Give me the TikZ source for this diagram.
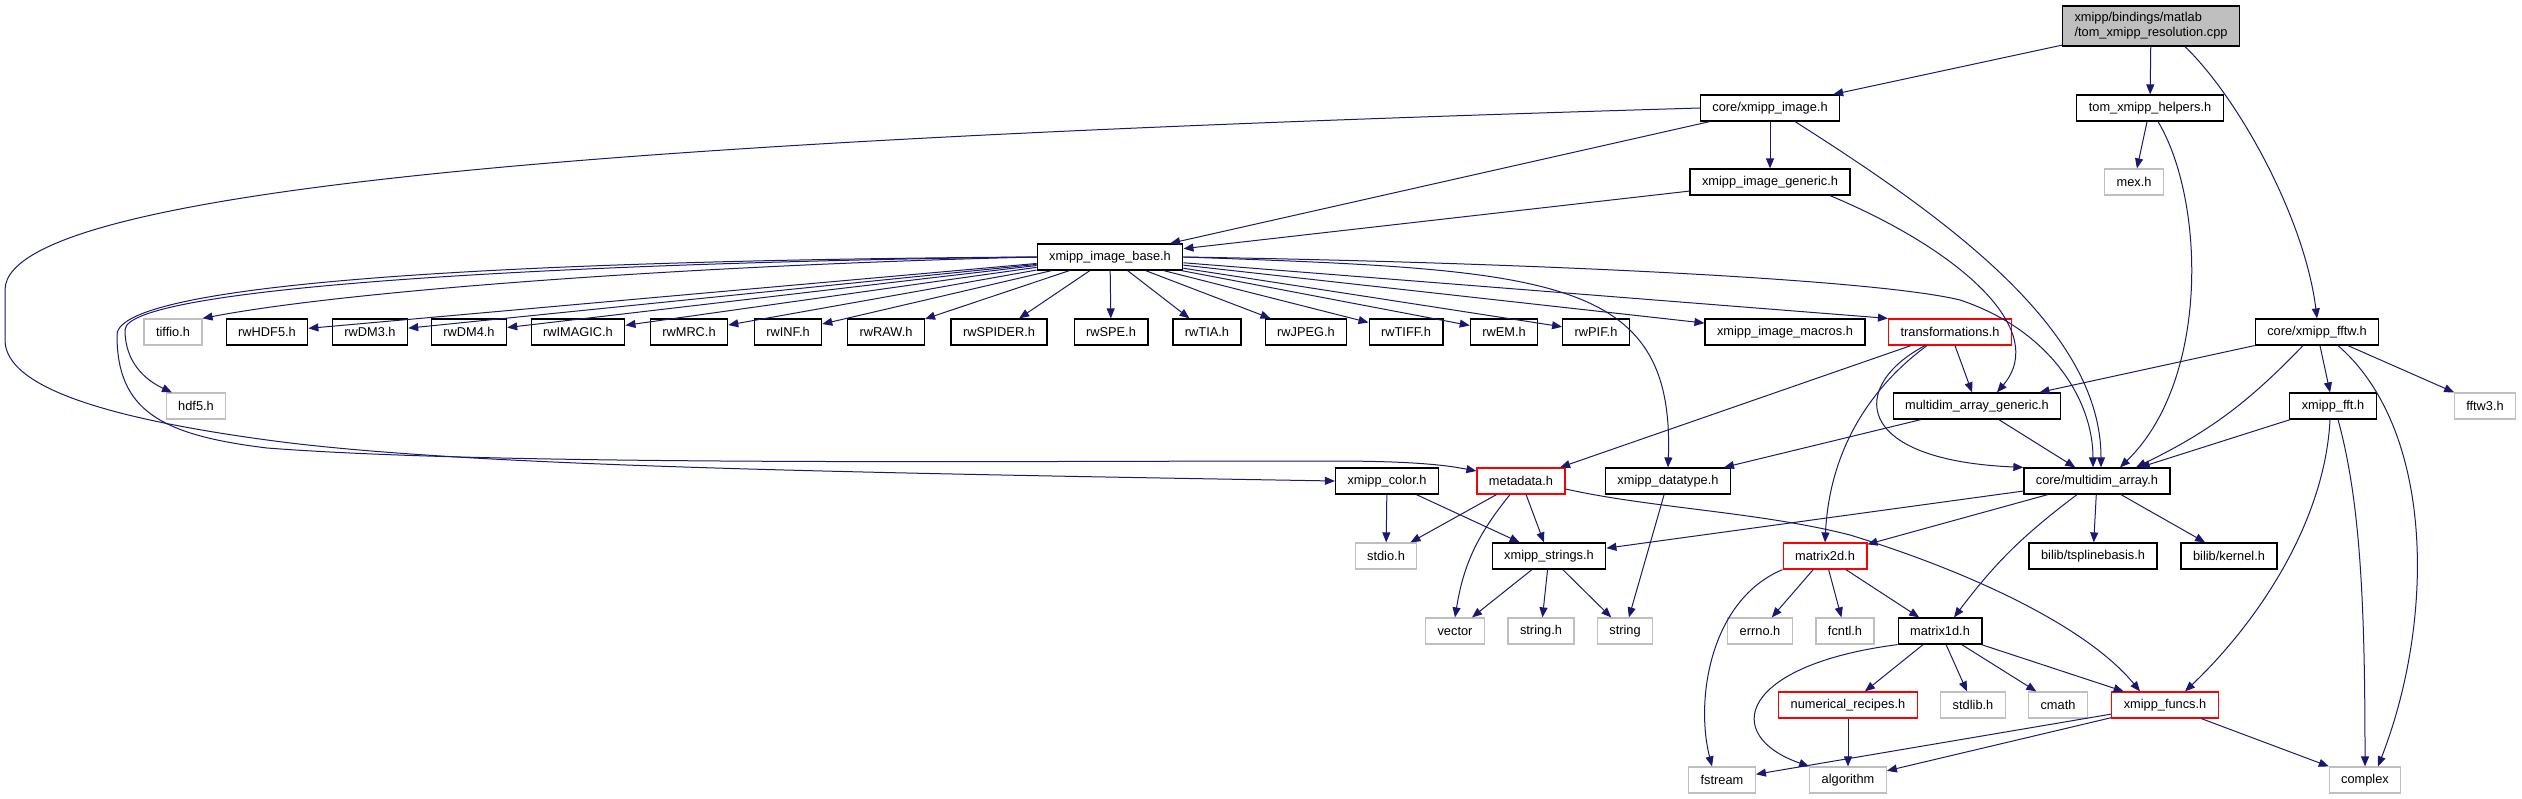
\documentclass[tikz,border=0pt]{standalone}
\usepackage{fontspec}
\setmainfont{Liberation Sans}
\usetikzlibrary{calc,arrows.meta}
\definecolor{edgeblue}{RGB}{25,25,112}
\definecolor{sysgray}{RGB}{191,191,191}
\definecolor{rootgray}{RGB}{191,191,191}

\begin{document}
\begin{tikzpicture}[x=1pt, y=-1pt, >={Triangle[length=10pt,width=8pt]},
  font=\fontsize{12.8}{15}\selectfont,
  filebox/.style={draw=black, fill=white, line width=1.2pt, minimum height=26pt, inner xsep=12pt, inner ysep=0pt},
  sysbox/.style={filebox, draw=sysgray},
  redbox/.style={filebox, draw=red},
  rootbox/.style={filebox, fill=rootgray, align=left, minimum height=40pt},
  dep/.style={->, draw=edgeblue, line width=1pt}]
\useasboundingbox (0,0) rectangle (2522,799);
\node[rootbox] (root) at (2151,26) {xmipp/bindings/matlab\\/tom\_xmipp\_resolution.cpp};
\node[filebox] (img) at (1770,108) {core/xmipp\_image.h};
\node[filebox] (helpers) at (2150,108) {tom\_xmipp\_helpers.h};
\node[filebox] (generic) at (1770,182) {xmipp\_image\_generic.h};
\node[sysbox] (mex) at (2134,182) {mex.h};
\node[filebox] (base) at (1110,257) {xmipp\_image\_base.h};
\node[sysbox] (tiffio) at (173,332) {tiffio.h};
\node[filebox] (rwhdf) at (267,332) {rwHDF5.h};
\node[filebox] (rwdm3) at (370,332) {rwDM3.h};
\node[filebox] (rwdm4) at (469,332) {rwDM4.h};
\node[filebox] (rwimagic) at (578,332) {rwIMAGIC.h};
\node[filebox] (rwmrc) at (689,332) {rwMRC.h};
\node[filebox] (rwinf) at (788,332) {rwINF.h};
\node[filebox] (rwraw) at (886,332) {rwRAW.h};
\node[filebox] (rwspider) at (999,332) {rwSPIDER.h};
\node[filebox] (rwspe) at (1111,332) {rwSPE.h};
\node[filebox] (rwtia) at (1207,332) {rwTIA.h};
\node[filebox] (rwjpeg) at (1306,332) {rwJPEG.h};
\node[filebox] (rwtiff) at (1406,332) {rwTIFF.h};
\node[filebox] (rwem) at (1504,332) {rwEM.h};
\node[filebox] (rwpif) at (1596,332) {rwPIF.h};
\node[filebox] (macros) at (1785,332) {xmipp\_image\_macros.h};
\node[redbox] (trans) at (1950,332) {transformations.h};
\node[filebox] (fftw) at (2317,332) {core/xmipp\_fftw.h};
\node[sysbox] (hdf) at (196,406) {hdf5.h};
\node[filebox] (mageneric) at (1977,406) {multidim\_array\_generic.h};
\node[filebox] (fft) at (2333,406) {xmipp\_fft.h};
\node[sysbox] (fftwthree) at (2485,406) {fftw3.h};
\node[filebox] (colorh) at (1387,481) {xmipp\_color.h};
\node[redbox] (metadata) at (1521,481) {metadata.h};
\node[filebox] (datatype) at (1668,481) {xmipp\_datatype.h};
\node[filebox] (marray) at (2097,481) {core/multidim\_array.h};
\node[sysbox] (stdio) at (1386,556) {stdio.h};
\node[filebox] (strings) at (1549,556) {xmipp\_strings.h};
\node[redbox] (matrixtwo) at (1825,556) {matrix2d.h};
\node[filebox] (tspline) at (2093,556) {bilib/tsplinebasis.h};
\node[filebox] (kernel) at (2229,556) {bilib/kernel.h};
\node[sysbox] (vector) at (1455,631) {vector};
\node[sysbox] (stringh) at (1541,631) {string.h};
\node[sysbox] (string) at (1625,631) {string};
\node[sysbox] (errno) at (1760,631) {errno.h};
\node[sysbox] (fcntl) at (1845,631) {fcntl.h};
\node[filebox] (matrixone) at (1940,631) {matrix1d.h};
\node[redbox] (numrec) at (1848,705) {numerical\_recipes.h};
\node[sysbox] (stdlib) at (1973,705) {stdlib.h};
\node[sysbox] (cmath) at (2058,705) {cmath};
\node[redbox] (funcs) at (2165,705) {xmipp\_funcs.h};
\node[sysbox] (fstream) at (1722,780) {fstream};
\node[sysbox] (algorithm) at (1848,780) {algorithm};
\node[sysbox] (complex) at (2365,780) {complex};
\draw[dep] (root) -- (img);
\draw[dep] (root) -- (helpers);
\draw[dep] ($(root.south)+(34,0)$) .. controls (2240,100) and (2305,220) .. (fftw.north);
\draw[dep] (img) -- (generic);
\draw[dep] (img) -- (base);
\draw[dep] ($(img.south)+(25,0)$) .. controls (1950,220) and (2101,330) .. ($(marray.north)+(4,0)$);
\draw[dep] (img.west) .. controls (800,135) and (5,175) .. (5,290) -- (5,340) .. controls (5,390) and (120,420) .. (267,440) .. controls (450,465) and (800,472) .. (colorh.west);
\draw[dep] (helpers) -- (mex);
\draw[dep] ($(helpers.south)+(8,0)$) .. controls (2205,200) and (2210,380) .. ($(marray.north)+(23,0)$);
\draw[dep] (generic) -- (base);
\draw[dep] ($(generic.south)+(60,0)$) .. controls (1960,250) and (2050,330) .. ($(mageneric.north)+(20,0)$);
\draw[dep] (base.west) .. controls (700,265) and (350,290) .. (tiffio.north east);
\draw[dep] (base.west) .. controls (600,262) and (125,285) .. (125,330) .. controls (125,362) and (145,380) .. ($(hdf.north)+(-24,0)$);
\draw[dep] (base.west) .. controls (550,260) and (117,280) .. (117,335) .. controls (117,410) and (160,435) .. (267,448) .. controls (500,466) and (1000,461) .. (1330,461) .. controls (1420,461) and (1450,466) .. ($(metadata.west)+(0,-10)$);
\draw[dep] (base) -- (rwhdf);
\draw[dep] (base) -- (rwdm3);
\draw[dep] (base) -- (rwdm4);
\draw[dep] (base) -- (rwimagic);
\draw[dep] (base) -- (rwmrc);
\draw[dep] (base) -- (rwinf);
\draw[dep] (base) -- (rwraw);
\draw[dep] (base) -- (rwspider);
\draw[dep] (base) -- (rwspe);
\draw[dep] (base) -- (rwtia);
\draw[dep] (base) -- (rwjpeg);
\draw[dep] (base) -- (rwtiff);
\draw[dep] (base) -- (rwem);
\draw[dep] (base) -- (rwpif);
\draw[dep] (base) -- (macros);
\draw[dep] (base) -- (trans.north west);
\draw[dep] (base.east) .. controls (1550,270) and (1675,275) .. (datatype.north);
\draw[dep] (base.east) .. controls (1500,262) and (1870,278) .. (1960,300) .. controls (2050,330) and (2093,400) .. ($(marray.north)+(-4,0)$);
\draw[dep] (trans) -- (metadata);
\draw[dep] (trans) -- (mageneric);
\draw[dep] ($(trans.south)+(-25,0)$) .. controls (1850,385) and (1850,460) .. (marray.north west);
\draw[dep] ($(trans.south)+(-23,0)$) .. controls (1880,380) and (1830,440) .. (matrixtwo.north);
\draw[dep] (mageneric) -- (marray);
\draw[dep] (mageneric) -- (datatype);
\draw[dep] (fftw) -- (mageneric);
\draw[dep] ($(fftw.south)+(-14,0)$) to[bend left=10] ($(marray.north)+(39,0)$);
\draw[dep] (fftw) -- (fft);
\draw[dep] ($(fftw.south)+(21,0)$) .. controls (2435,430) and (2435,620) .. ($(complex.north)+(13,0)$);
\draw[dep] (fftw) -- (fftwthree);
\draw[dep] (fft) -- (marray);
\draw[dep] ($(fft.south)+(-3,0)$) .. controls (2325,520) and (2260,620) .. ($(funcs.north)+(20,0)$);
\draw[dep] ($(fft.south)+(5,0)$) .. controls (2360,500) and (2365,600) .. (complex.north);
\draw[dep] (marray) -- (strings);
\draw[dep] (marray) -- (matrixtwo);
\draw[dep] ($(marray.south)+(-20,0)$) to[bend right=8] ($(matrixone.north)+(14,0)$);
\draw[dep] (marray) -- (tspline);
\draw[dep] (marray) -- (kernel);
\draw[dep] (metadata) -- (stdio);
\draw[dep] ($(metadata.south)+(-11,0)$) to[bend right=15] (vector.north);
\draw[dep] (metadata) -- (strings);
\draw[dep] ($(metadata.east)+(0,8)$) .. controls (1650,508) and (1760,512) .. (1850,535) .. controls (1980,575) and (2090,630) .. ($(funcs.north)+(-25,0)$);
\draw[dep] (colorh) -- (stdio);
\draw[dep] (colorh) -- (strings);
\draw[dep] (datatype) -- (string);
\draw[dep] (strings) -- (vector);
\draw[dep] (strings) -- (stringh);
\draw[dep] (strings) -- (string);
\draw[dep] (matrixtwo.south west) .. controls (1710,600) and (1695,700) .. ($(fstream.north)+(-10,0)$);
\draw[dep] (matrixtwo) -- (errno);
\draw[dep] (matrixtwo) -- (fcntl);
\draw[dep] (matrixtwo) -- (matrixone);
\draw[dep] (matrixone.south west) .. controls (1740,665) and (1720,735) .. (algorithm.north west);
\draw[dep] (matrixone) -- (numrec);
\draw[dep] (matrixone) -- (stdlib);
\draw[dep] (matrixone) -- (cmath);
\draw[dep] (matrixone) -- (funcs);
\draw[dep] (numrec) -- (algorithm);
\draw[dep] (funcs) -- (fstream);
\draw[dep] (funcs) -- (algorithm);
\draw[dep] (funcs) -- (complex);
\end{tikzpicture}
\end{document}
